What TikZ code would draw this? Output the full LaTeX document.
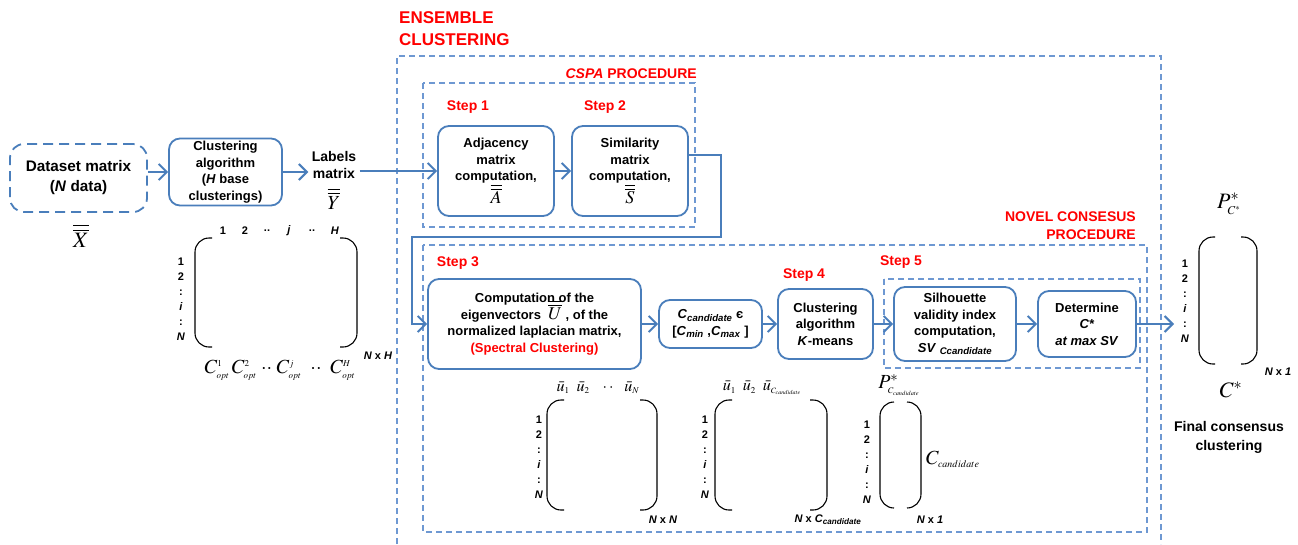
\documentclass[tikz,border=0pt]{standalone}
\usepackage{mathptmx}
\usepackage[no-math]{fontspec}
\setmainfont{Liberation Sans}
\usetikzlibrary{arrows.meta}
\definecolor{flowblue}{RGB}{74,126,187}
\definecolor{dashblue}{RGB}{110,152,210}
\newcommand{\rowids}{1\\2\\:\\\textit{i}\\:\\\textit{N}}
\newcommand{\dbar}[1]{\overline{\overline{#1}}}
\newcommand{\tinysub}[2][9]{\mbox{\fontsize{#1}{#1}\selectfont$#2$}}

\begin{document}
\begin{tikzpicture}[x=1pt,y=-1pt,
  box/.style={draw=flowblue, line width=1.8pt, rounded corners=11pt, align=center,
    inner sep=0pt, font=\bfseries\fontsize{13}{16.5}\selectfont},
  frame/.style={draw=dashblue, line width=1.3pt, dash pattern=on 6pt off 4pt},
  flow/.style={draw=flowblue, line width=2pt,
    -{Straight Barb[length=8pt,width=16pt,line width=2pt]}},
  redlab/.style={text=red, inner sep=0pt, font=\bfseries\fontsize{14}{18}\selectfont},
  steplab/.style={text=red, font=\bfseries\fontsize{14}{16}\selectfont},
  rowlab/.style={align=center, inner sep=0pt, font=\bfseries\fontsize{11}{15}\selectfont},
  hdr/.style={inner sep=0pt, font=\bfseries\fontsize{11}{12}\selectfont},
  dimlab/.style={inner sep=0pt, font=\bfseries\itshape\fontsize{11}{12}\selectfont},
  bigmath/.style={inner sep=0pt, font=\fontsize{20}{20}\selectfont},
  paren/.style={line width=1.1pt, rounded corners=14pt}]

\useasboundingbox (0,0) rectangle (1298,544);

% dashed frames
\draw[frame] (397,544) -- (397,56) -- (1161,56) -- (1161,544);
\draw[frame] (423,83) rectangle (695,227);
\draw[frame] (423,245) rectangle (1147,532);
\draw[frame] (884,279) rectangle (1140,368);

\node[redlab, anchor=west, align=left, font=\bfseries\fontsize{17}{22}\selectfont] (enslab) at (399,29) {ENSEMBLE\\CLUSTERING};
\node[redlab, anchor=east] (cspalab) at (697,74) {\textit{CSPA} PROCEDURE};
\node[redlab, anchor=east, align=right] (novlab) at (1136,226) {NOVEL CONSESUS\\PROCEDURE};

% input side
\node[box, dash pattern=on 10pt off 6pt, rounded corners=14pt, minimum width=137pt, minimum height=68pt,
  font=\bfseries\fontsize{15.3}{20}\selectfont] (data) at (78.5,178) {Dataset matrix\\(\textit{N} data)};
\node[bigmath, font=\fontsize{22}{22}\selectfont] (xmat) at (81,236) {$\dbar{X}$};
\node[box, minimum width=113pt, minimum height=67pt] (clust) at (225.5,172) {Clustering\\algorithm\\(\textit{H} base\\clusterings)};
\node[align=center, font=\bfseries\fontsize{14}{17}\selectfont] (labels) at (334,165) {Labels\\matrix};
\node[bigmath] (ymat) at (334,199) {$\dbar{Y}$};

% CSPA steps
\node[steplab] (st1) at (468,107) {Step 1};
\node[steplab] (st2) at (605,107) {Step 2};
\node[box, minimum width=116pt, minimum height=90pt] (adj) at (496,171) {Adjacency\\matrix\\computation,\\{\fontsize{18}{18}\selectfont$\dbar{A}$}};
\node[box, minimum width=116pt, minimum height=90pt] (sim) at (630,171) {Similarity\\matrix\\computation,\\{\fontsize{18}{18}\selectfont$\dbar{S}$}};

% consensus steps
\node[steplab] (st3) at (458,263) {Step 3};
\node[steplab] (st4) at (804,275) {Step 4};
\node[steplab] (st5) at (901,262) {Step 5};
\node[box, minimum width=213pt, minimum height=90pt] (eig) at (534.5,324) {Computation of the\\eigenvectors \;\smash{\fontsize{18}{18}\selectfont$\dbar{U}$}\;, of the\\normalized laplacian matrix,\\\textcolor{red}{(Spectral Clustering)}};
\node[box, minimum width=103pt, minimum height=48pt] (cand) at (710.5,324) {\textit{C}\textsubscript{\textit{candidate}} є\\{[}\textit{C}\textsubscript{\textit{min}} ,\textit{C}\textsubscript{\textit{max}} ]};
\node[box, minimum width=95pt, minimum height=70pt] (km) at (825.5,324) {Clustering\\algorithm\\\textit{K}-means};
\node[box, minimum width=122pt, minimum height=74pt] (sil) at (955,324) {Silhouette\\validity index\\computation,\\\textit{SV} \textsubscript{\textit{Ccandidate}}};
\node[box, minimum width=98pt, minimum height=66pt] (det) at (1087,324) {Determine\\\textit{C*}\\\textit{at max SV}};

% connectors
\coordinate (loopR) at (721,237);
\coordinate (loopL) at (412,237);
\coordinate (finin) at (1174,324);
\draw[flow] (data.east |- clust.west) -- (clust.west);
\draw[flow] (clust.east) -- (clust.east -| labels.west);
\draw[flow] (labels.east |- adj.west) -- (adj.west);
\draw[flow] (adj) -- (sim);
\draw[flow] ([yshift=16pt]sim.east) -| (loopR) -- (loopL) |- (eig.west);
\draw[flow] (eig) -- (cand);
\draw[flow] (cand) -- (km);
\draw[flow] (km) -- (sil);
\draw[flow] (sil) -- (det);
\draw[flow] (det) -- (finin);

% labels matrix
\draw[paren] (212,238) -- (195,238) -- (195,347) -- (212,347);
\draw[paren] (340,238) -- (357,238) -- (357,347) -- (340,347);
\node[rowlab] (lrows) at (181,299) {\rowids};
\foreach \x/\t [count=\i] in {223/1,245/2,267/..,289/\textit{j},312/..,335/\textit{H}}
  \node[hdr] (lhead\i) at (\x,231) {\t};
\node[dimlab] (ldim) at (378,356) {N {\upshape x} H};
\node[bigmath] (lcols) at (280,370) {$C^{\tinysub{1}}_{\tinysub{opt}}\,C^{\tinysub{2}}_{\tinysub{opt}}\;{\cdot\cdot}\;C^{\tinysub{j}}_{\tinysub{opt}}\;\;{\cdot\cdot}\;\;C^{\tinysub{H}}_{\tinysub{opt}}$};

% eigenvector matrix
\draw[paren] (564,400) -- (547,400) -- (547,510) -- (564,510);
\draw[paren] (640,400) -- (657,400) -- (657,510) -- (640,510);
\node[rowlab] (erows) at (539,457) {\rowids};
\node[bigmath, font=\fontsize{16}{16}\selectfont] (ehead) at (598,388) {$\bar{u}_{\tinysub{1}}\;\;\bar{u}_{\tinysub{2}}\;\;\;\cdot\cdot\;\;\;\bar{u}_{\tinysub{N}}$};
\node[dimlab] (edim) at (663,520) {N {\upshape x} N};

% reduced eigenvector matrix
\draw[paren] (732,400) -- (715,400) -- (715,510) -- (732,510);
\draw[paren] (810,400) -- (827,400) -- (827,510) -- (810,510);
\node[rowlab] (crows) at (705,457) {\rowids};
\node[bigmath, font=\fontsize{16}{16}\selectfont] (chead) at (762,388) {$\bar{u}_{\tinysub{1}}\;\;\bar{u}_{\tinysub{2}}\;\;\bar{u}_{\tinysub[8]{C_{candidate}}}$};
\node[dimlab] (cdim) at (828,520) {N {\upshape x} C\textsubscript{candidate}};

% partition vector
\draw[paren] (894,402) -- (880,402) -- (880,508) -- (894,508);
\draw[paren] (907,402) -- (921,402) -- (921,508) -- (907,508);
\node[rowlab] (prows) at (867,462) {\rowids};
\node[bigmath] (phead) at (899,385) {$P^*_{\tinysub[8.5]{C_{candidate}}}$};
\node[bigmath, anchor=west] (pside) at (926,459) {$C_{\tinysub[10]{candidate}}$};
\node[dimlab] (pdim) at (930,520) {N {\upshape x} 1};

% final consensus
\draw[paren] (1215,237) -- (1199,237) -- (1199,364) -- (1215,364);
\draw[paren] (1241,237) -- (1257,237) -- (1257,364) -- (1241,364);
\node[rowlab] (frows) at (1185,301) {\rowids};
\node[bigmath, font=\fontsize{22}{22}\selectfont] (fhead) at (1229,204) {$P^{*}_{\tinysub[12]{C^*}}$};
\node[bigmath, font=\fontsize{22}{22}\selectfont] (fstar) at (1231,390) {$C^*$};
\node[dimlab] (fdim) at (1278,372) {N {\upshape x} 1};
\node[align=center, font=\bfseries\fontsize{14}{19}\selectfont] (fincap) at (1229,437) {Final consensus\\clustering};
\end{tikzpicture}
\end{document}
